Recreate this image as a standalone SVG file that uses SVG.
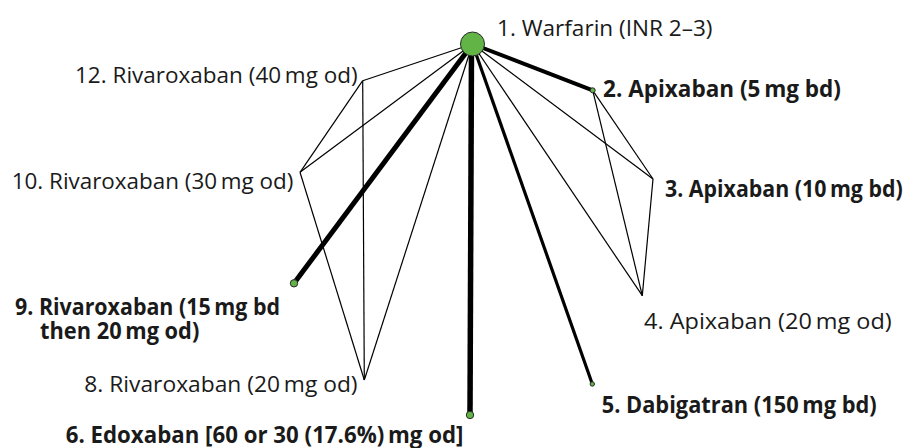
<svg xmlns="http://www.w3.org/2000/svg" width="909" height="448" viewBox="0 0 909 448">
<style>
.e{stroke:#000;stroke-linecap:butt;fill:none}
.t1{stroke-width:1.2}
.n{fill:#62b446;stroke:#2a2a2a;stroke-width:1}
.lb{font-family:"Open Sans","Noto Sans","DejaVu Sans",sans-serif;font-size:22.5px;fill:#1a1a1a}
.b{font-weight:bold}
</style>
<rect width="909" height="448" fill="#fff"/>
<g id="connectors">
<line class="e t1" x1="472.5" y1="44" x2="362.7" y2="80.7"/>
<line class="e t1" x1="472.5" y1="44" x2="300" y2="172.3"/>
<line class="e t1" x1="472.5" y1="44" x2="364.3" y2="380"/>
<line class="e t1" x1="472.5" y1="44" x2="653" y2="179"/>
<line class="e t1" x1="472.5" y1="44" x2="642.3" y2="295.7"/>
<line class="e t1" x1="592.7" y1="90.3" x2="653" y2="179"/>
<line class="e t1" x1="592.7" y1="90.3" x2="642.3" y2="295.7"/>
<line class="e t1" x1="653" y1="179" x2="642.3" y2="295.7"/>
<line class="e t1" x1="362.7" y1="80.7" x2="300" y2="172.3"/>
<line class="e t1" x1="362.7" y1="80.7" x2="364.3" y2="380"/>
<line class="e t1" x1="300" y1="172.3" x2="364.3" y2="380"/>
<line class="e" stroke-width="4" x1="472.5" y1="44" x2="592.7" y2="90.3"/>
<line class="e" stroke-width="3.2" x1="472.5" y1="44" x2="592.3" y2="384"/>
<line class="e" stroke-width="5.5" x1="471.5" y1="44" x2="470" y2="415"/>
<line class="e" stroke-width="5" x1="472.5" y1="44" x2="294" y2="283.3"/>
</g>
<g id="node1"><circle class="n" cx="472.5" cy="44" r="12"/><text class="lb" x="497" y="36" textLength="215.5" lengthAdjust="spacingAndGlyphs">1. Warfarin (INR 2–3)</text></g>
<g id="node2"><circle class="n" cx="592.7" cy="90.3" r="2.5"/><text class="lb b" x="603" y="96.5" textLength="238" lengthAdjust="spacingAndGlyphs">2. Apixaban (5&#8201;mg bd)</text></g>
<g id="node3"><text class="lb b" x="665" y="197" textLength="237.7" lengthAdjust="spacingAndGlyphs">3. Apixaban (10&#8201;mg bd)</text></g>
<g id="node4"><text class="lb" x="644" y="329" textLength="247.7" lengthAdjust="spacingAndGlyphs">4. Apixaban (20&#8201;mg od)</text></g>
<g id="node5"><circle class="n" cx="592.3" cy="384" r="2.2"/><text class="lb b" x="601.7" y="413" textLength="275" lengthAdjust="spacingAndGlyphs">5. Dabigatran (150&#8201;mg bd)</text></g>
<g id="node6"><circle class="n" cx="470" cy="415" r="3.7"/><text class="lb b" x="65.7" y="443" textLength="397.7" lengthAdjust="spacingAndGlyphs">6. Edoxaban [60 or 30 (17.6%)&#8201;mg od]</text></g>
<g id="node8"><text class="lb" x="84.3" y="392" textLength="273.3" lengthAdjust="spacingAndGlyphs">8. Rivaroxaban (20&#8201;mg od)</text></g>
<g id="node9"><circle class="n" cx="294" cy="283.3" r="3.7"/><text class="lb b" x="15" y="315" textLength="265" lengthAdjust="spacingAndGlyphs">9. Rivaroxaban (15&#8201;mg bd</text><text class="lb b" x="40" y="338.5" textLength="159.3" lengthAdjust="spacingAndGlyphs">then 20&#8201;mg od)</text></g>
<g id="node10"><text class="lb" x="11.7" y="188.5" textLength="281.7" lengthAdjust="spacingAndGlyphs">10. Rivaroxaban (30&#8201;mg od)</text></g>
<g id="node12"><text class="lb" x="75" y="82.5" textLength="282.7" lengthAdjust="spacingAndGlyphs">12. Rivaroxaban (40&#8201;mg od)</text></g>
</svg>
